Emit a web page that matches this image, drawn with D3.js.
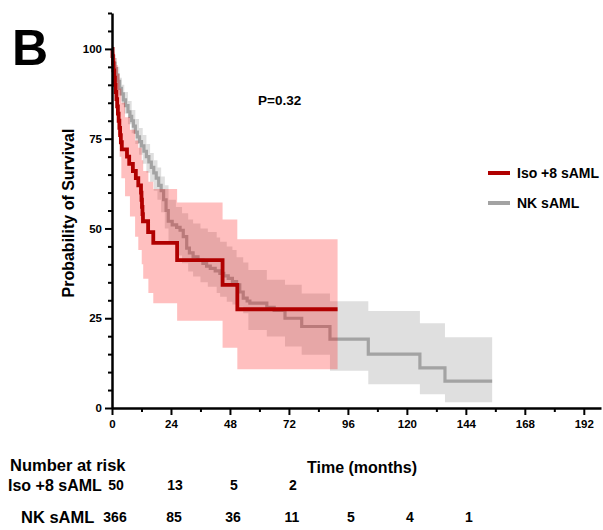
<!DOCTYPE html>
<html>
<head>
<meta charset="utf-8">
<script src="https://cdn.jsdelivr.net/npm/d3@7"></script>
<style>
  body { margin: 0; background: #fff; }
  svg text { font-family: "Liberation Sans", Arial, sans-serif; font-weight: bold; fill: #000; }
</style>
</head>
<body>
<div id="chart"></div>
<script>
// Iso +8 sAML (red) step curve, months / % surviving
const isoTime = [0, 0.2, 0.4, 0.6, 0.9, 1.2, 1.5, 1.8, 2.1, 2.4, 2.7, 3.0, 3.3, 3.6, 4.0, 6.1, 7.0, 8.5, 9.7, 10.7, 11.8, 12.0, 12.2, 12.4, 12.6, 14.7, 16.8, 26.5, 45, 51]
const isoSurv = [100, 98, 96, 94, 92, 90, 88, 86, 84, 82, 80, 78, 76, 74, 72, 70, 68, 66, 64, 62, 60, 58, 56, 54, 52, 49, 46, 41.2, 34.3, 27.5]
const isoEnd = 91.8
const isoBandTime = [0, 0.3, 0.7, 1.2, 1.75, 2.4, 3.1, 3.8, 5.3, 7.3, 9.4, 10.7, 12.1, 12.7, 14.8, 16.8, 26.5, 45, 51]
const isoLower = [100, 95, 91, 87, 83, 76, 70, 64, 59, 53.3, 47.7, 44, 40, 36, 32, 29.2, 24.3, 16.8, 10.8]
const isoUpper = [100, 100, 99, 97.5, 95.5, 93, 89, 85, 81, 77.5, 74.5, 72.5, 69, 66, 63, 61, 57.2, 52.5, 47]

// NK sAML (grey)
const nkTime = [0, 0.3, 0.7, 1.2, 1.75, 2.4, 3.1, 3.8, 4.6, 5.5, 6.5, 7.3, 8, 8.7, 9.5, 10.3, 11.2, 12, 13, 14, 15, 16, 17, 18, 19, 20, 21, 22, 22.9, 24.5, 26.3, 27.7, 29, 30.4, 31.5, 33, 35, 37, 38.5, 40, 42, 43.9, 45.5, 47.3, 49, 50.7, 52, 53.4, 55, 56.1, 63, 66, 70.4, 77.2, 88.7, 104.3, 125.3, 135.5]
const nkSurv = [100, 98, 96, 94.5, 92.8, 91, 89, 87.5, 85.8, 84.2, 82.5, 81.2, 80, 78.5, 76.8, 75.5, 74.2, 73, 71.5, 70, 68.5, 67, 65.5, 64, 62, 60.5, 58, 55, 52, 51, 50.3, 49.5, 47.7, 44.5, 43.2, 42.1, 41.2, 40.3, 39.5, 38.9, 38.2, 37.5, 36.8, 36.1, 35.2, 34.3, 32.3, 30.6, 29.8, 29.2, 28, 27.2, 25, 22.7, 19.2, 15, 11.2, 7.5]
const nkEnd = 154.7
const nkBandTime = [0, 0.5, 1, 2, 3, 4, 5, 6.5, 8, 9.5, 11, 12.5, 14, 15.5, 17, 18.5, 20, 21.5, 23, 26, 28.5, 31, 33, 36, 39, 42.6, 44, 46.7, 49, 50.7, 53.4, 55.5, 63, 70.4, 77.2, 88.7, 104.3, 125.3, 135.5]
const nkLower = [100, 96, 93.5, 90.5, 87, 84.5, 82, 79, 76.5, 73.5, 70.5, 68, 65.5, 63, 60.5, 58, 54.5, 50, 46.5, 42.5, 40.3, 38, 36.6, 35, 33.8, 32, 31, 29.6, 28.8, 28.2, 26.4, 21.7, 19.9, 17.1, 14.8, 10.4, 6.6, 3.8, 1.6]
const nkUpper = [100, 99.5, 97.5, 95, 92, 90, 88, 85.5, 83, 80.5, 78, 76, 73.5, 71, 69, 67, 64.5, 62, 58, 56, 54.2, 52.5, 51.4, 50, 49, 47.5, 46.3, 45, 44, 42, 40.5, 38.4, 35.7, 34.3, 31.9, 29.7, 27, 23.6, 19.7]

const xTicks = [0, 24, 48, 72, 96, 120, 144, 168, 192]
const yTicks = [0, 25, 50, 75, 100]
const riskTimes = [0, 24, 48, 72, 96, 120, 144]
const isoRisk = [50, 13, 5, 2]
const nkRisk = [366, 85, 36, 11, 5, 4, 1]

const RED = "#b00000"
const GREY = "#a3a3a3"

const svg = d3.select("#chart").append("svg")
    .attr("width", 603)
    .attr("height", 530)

const x = d3.scaleLinear().domain([0, 199]).range([112, 601])
const y = d3.scaleLinear().domain([0, 110]).range([408, 13])

function stepPoints(times, vals, end) {
    let pts = times.map((t, i) => [t, vals[i]])
    pts.push([end, vals[vals.length - 1]])
    return pts
}
function bandPoints(times, lo, hi, end) {
    let pts = times.map((t, i) => [t, lo[i], hi[i]])
    pts.push([end, lo[lo.length - 1], hi[hi.length - 1]])
    return pts
}

const line = d3.line().x(d => x(d[0])).y(d => y(d[1])).curve(d3.curveStepAfter)
const area = d3.area().x(d => x(d[0])).y0(d => y(d[1])).y1(d => y(d[2])).curve(d3.curveStepAfter)

// grey band + line first, red band drawn translucent on top
svg.append("path")
    .attr("d", area(bandPoints(nkBandTime, nkLower, nkUpper, nkEnd)))
    .attr("fill", "rgba(128,128,128,0.25)")
svg.append("path")
    .attr("d", line(stepPoints(nkTime, nkSurv, nkEnd)))
    .attr("fill", "none")
    .attr("stroke", GREY)
    .attr("stroke-width", 3.2)
svg.append("path")
    .attr("d", area(bandPoints(isoBandTime, isoLower, isoUpper, isoEnd)))
    .attr("fill", "rgba(255,0,0,0.25)")
svg.append("path")
    .attr("d", line(stepPoints(isoTime, isoSurv, isoEnd)))
    .attr("fill", "none")
    .attr("stroke", RED)
    .attr("stroke-width", 3.8)

// axes
const xAxisMinor = svg.append("g").attr("transform", "translate(0,408)")
    .call(d3.axisBottom(x).tickValues(d3.range(12, 199, 24)).tickSize(4).tickFormat(""))
const xAxis = svg.append("g").attr("transform", "translate(0,408)")
    .call(d3.axisBottom(x).tickValues(xTicks).tickSize(7).tickSizeOuter(0).tickPadding(5))
const yAxisMinor = svg.append("g").attr("transform", "translate(112,0)")
    .call(d3.axisLeft(y).tickValues(d3.range(0, 111, 5).filter(v => v % 25 != 0)).tickSize(4).tickFormat(""))
const yAxis = svg.append("g").attr("transform", "translate(112,0)")
    .call(d3.axisLeft(y).tickValues(yTicks).tickSize(7).tickSizeOuter(0).tickPadding(3))

svg.selectAll(".domain").attr("stroke", "#000").attr("stroke-width", 2.5)
svg.selectAll(".tick line").attr("stroke", "#000").attr("stroke-width", 2)
svg.selectAll(".tick text").style("font-size", "11.5px").style("font-weight", "bold")
    .style("font-family", "'Liberation Sans', Arial, sans-serif")
xAxisMinor.select(".domain").remove()
yAxisMinor.select(".domain").remove()

// titles
svg.append("text").attr("x", 12).attr("y", 65).style("font-size", "50px").text("B")
svg.append("text")
    .attr("transform", "translate(74,213) rotate(-90)")
    .attr("text-anchor", "middle")
    .style("font-size", "16px")
    .text("Probability of Survival")
svg.append("text").attr("x", 258).attr("y", 105).style("font-size", "13.5px").text("P=0.32")

// legend
const legend = [["Iso +8 sAML", RED, 173], ["NK sAML", GREY, 203]]
legend.forEach(l => {
    svg.append("line").attr("x1", 488).attr("x2", 510).attr("y1", l[2]).attr("y2", l[2])
        .attr("stroke", l[1]).attr("stroke-width", 4)
    svg.append("text").attr("x", 517).attr("y", l[2] + 5).style("font-size", "14px").text(l[0])
})

// risk table
svg.append("text").attr("x", 362).attr("y", 473).attr("text-anchor", "middle")
    .style("font-size", "16px").text("Time (months)")
svg.append("text").attr("x", 10).attr("y", 471).style("font-size", "16.5px").text("Number at risk")
svg.append("text").attr("x", 8).attr("y", 491).style("font-size", "16px").text("Iso +8 sAML")
svg.append("text").attr("x", 21).attr("y", 523).style("font-size", "16.5px").text("NK sAML")
svg.selectAll(".riskIso").data(isoRisk).join("text")
    .attr("x", (d, i) => x(riskTimes[i]) + 4).attr("y", 490).attr("text-anchor", "middle")
    .style("font-size", "14px").text(d => d)
svg.selectAll(".riskNk").data(nkRisk).join("text")
    .attr("x", (d, i) => x(riskTimes[i]) + 3).attr("y", 522).attr("text-anchor", "middle")
    .style("font-size", "14px").text(d => d)
</script>
</body>
</html>
